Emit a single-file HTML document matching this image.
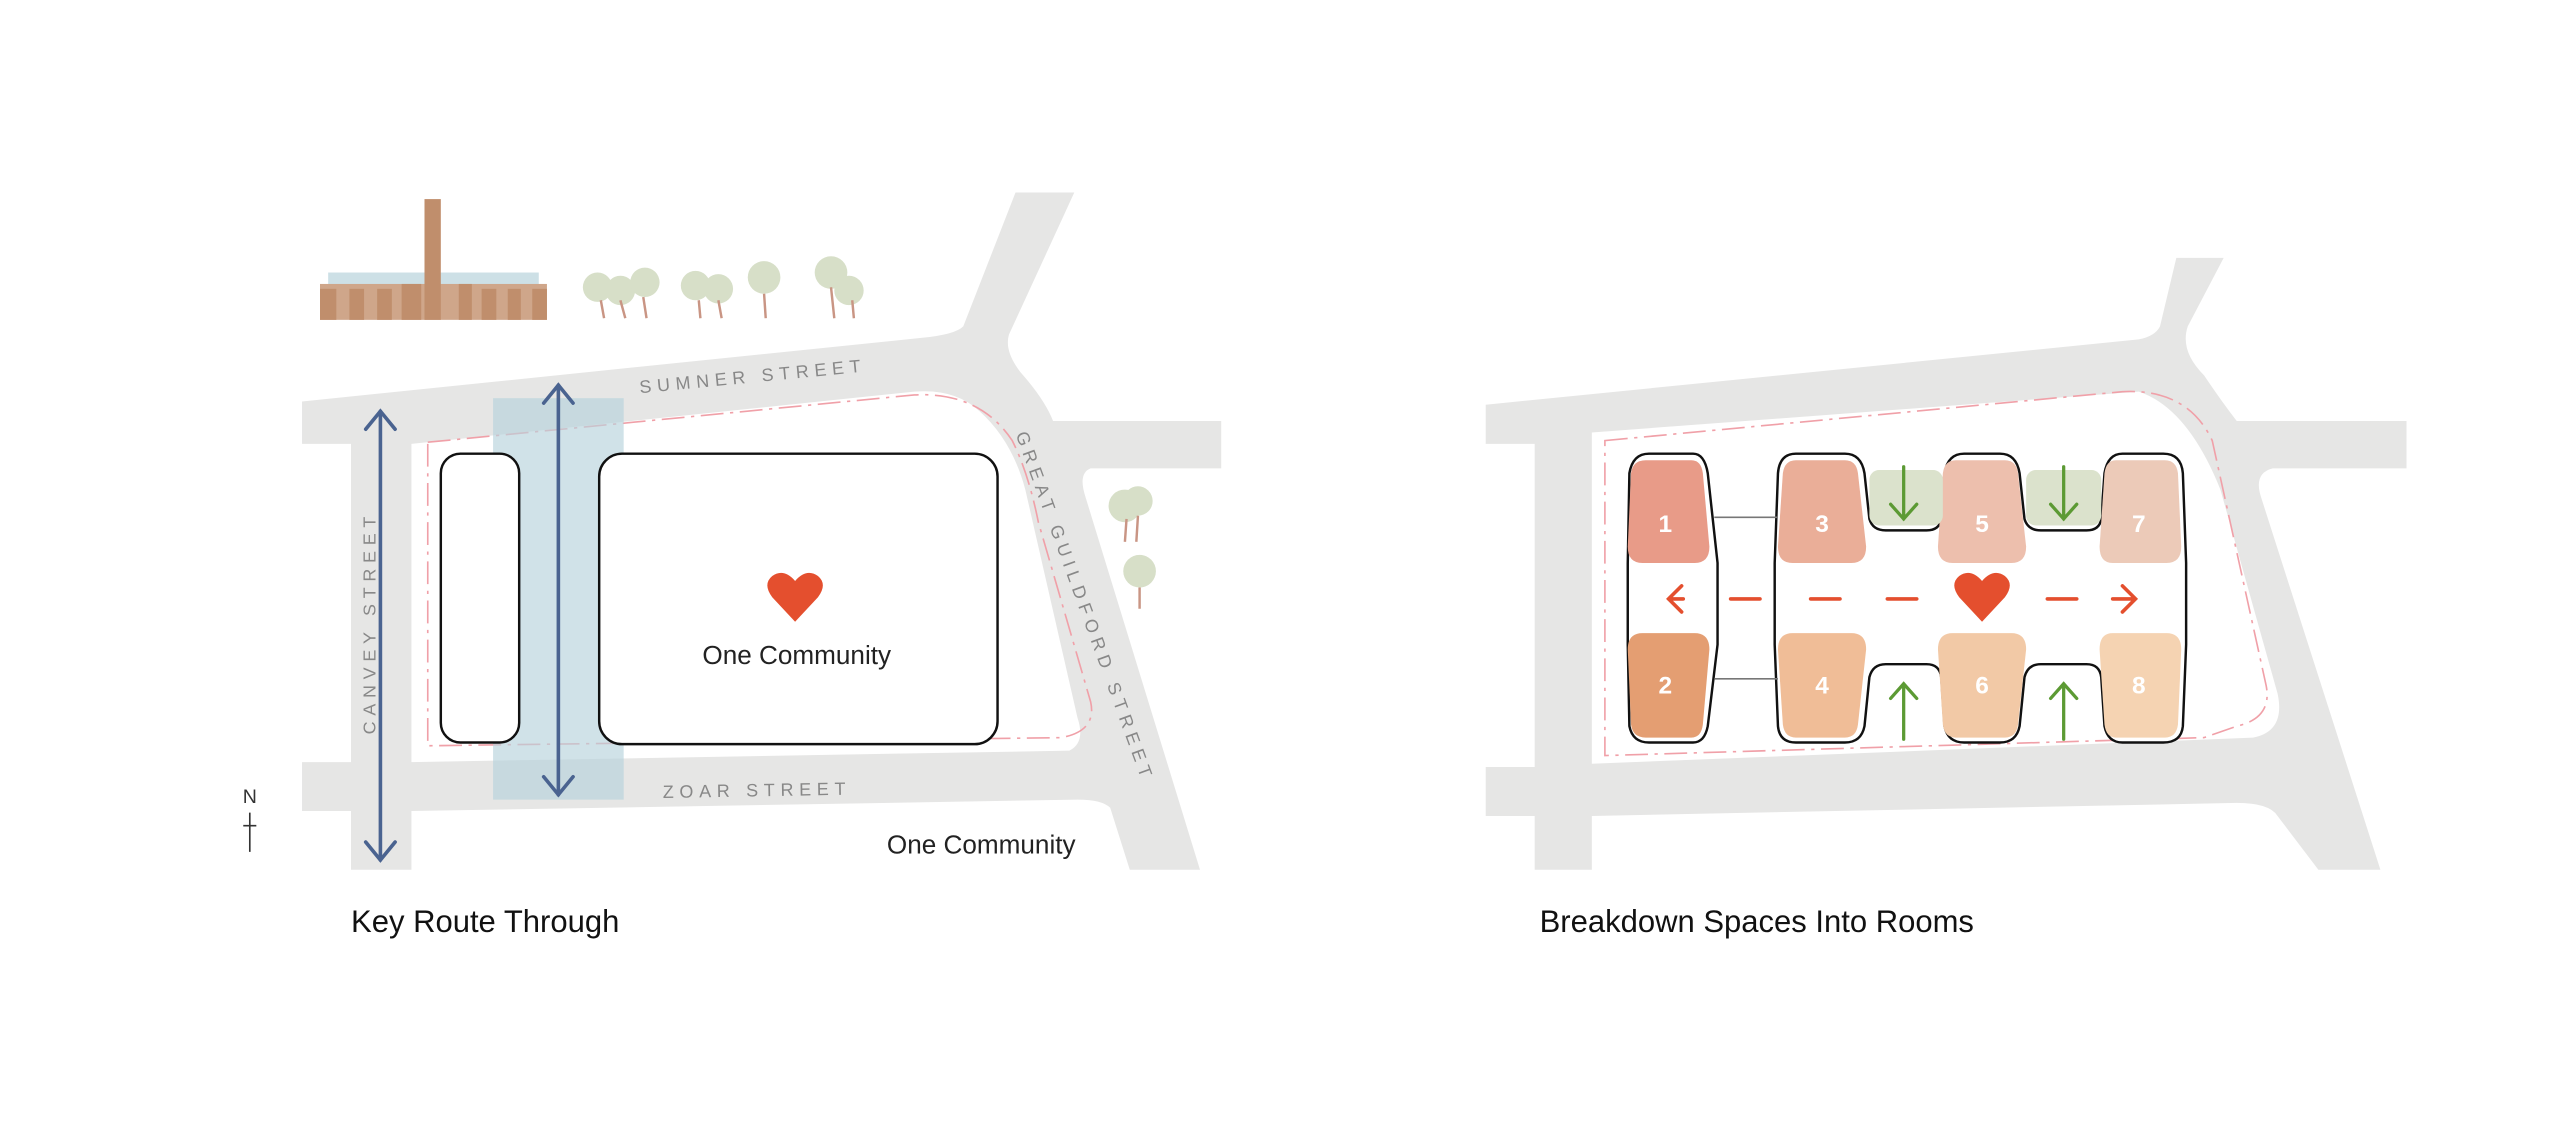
<!DOCTYPE html>
<html><head><meta charset="utf-8"><style>
html,body{margin:0;padding:0;background:#fff;}
svg{display:block;}
text{font-family:"Liberation Sans",sans-serif;}
</style></head><body>
<svg width="2560" height="1126" viewBox="0 0 1568 690" preserveAspectRatio="none" xmlns="http://www.w3.org/2000/svg">
<rect width="1568" height="690" fill="#fff"/>
<!-- LEFT ROADS -->
<path d="M185 246 L565 207 Q585 205 590 200 L622 118 L658 118 L618 205 Q615 215 625 228 Q640 245 645 258 L748 258 L748 287 L668 287 Q660 290 665 305 L735 533 L692 533 L680 495 Q675 490 660 490 L252 497 L252 533 L215 533 L215 497 L185 497 L185 467 L215 467 L215 272 L185 272 Z M252 272 L252 467 L655 460 Q665 455 660 440 L628 300 Q620 270 600 252 Q585 238 560 240 Z" fill="#e6e6e5" fill-rule="evenodd"/>
<path d="M262 271 L560 242 Q600 240 620 270 Q630 290 636 320 L668 430 Q672 448 650 452 L262 457 Z" fill="none" stroke="#f0a0a8" stroke-width="1" stroke-dasharray="14 4 2 4"/>
<rect x="302" y="244" width="80" height="246" fill="#b7d2dc" opacity="0.65"/>
<rect x="270" y="278" width="48" height="177" rx="12" fill="#fff" stroke="#111" stroke-width="1.5"/>
<rect x="367" y="278" width="244" height="178" rx="14" fill="#fff" stroke="#111" stroke-width="1.5"/>
<!-- arrows -->
<g stroke="#4a6390" stroke-width="2.2" fill="none" stroke-linecap="round">
<line x1="233" y1="252" x2="233" y2="527"/><path d="M224 263 L233 252 L242 263 M224 516 L233 527 L242 516"/>
<line x1="342" y1="236" x2="342" y2="487"/><path d="M333 247 L342 236 L351 247 M333 476 L342 487 L351 476"/>
</g>
<path d="M487 381 L473 366 Q467 358 473 353 Q480 348 487 356 Q494 348 501 353 Q507 358 501 366 Z" fill="#e44f2e"/>
<text x="488" y="407" font-size="16" text-anchor="middle" fill="#222">One Community</text>
<text x="601" y="523" font-size="16" text-anchor="middle" fill="#222">One Community</text>
<g fill="#888" font-size="11" letter-spacing="3.5">
<text transform="translate(392 241) rotate(-5.5)">SUMNER STREET</text>
<text transform="translate(406 489) rotate(-1)">ZOAR STREET</text>
<text transform="translate(230 450) rotate(-90)">CANVEY STREET</text>
<text transform="translate(622 266) rotate(70)">GREAT GUILDFORD STREET</text>
</g>
<!-- N -->
<text x="153" y="492" font-size="12" text-anchor="middle" fill="#333">N</text>
<path d="M153 522 L153 498 M149 506 L157 506" stroke="#333" stroke-width="1"/>
<!-- factory -->
<rect x="201" y="167" width="129" height="10" fill="#cde0e6"/>
<rect x="196" y="174" width="139" height="22" fill="#cfa68a"/>
<g fill="#c08e6c"><rect x="196" y="177" width="10" height="19"/><rect x="214" y="177" width="9" height="19"/><rect x="231" y="177" width="9" height="19"/><rect x="246" y="174" width="12" height="22"/><rect x="281" y="174" width="8" height="22"/><rect x="295" y="177" width="9" height="19"/><rect x="311" y="177" width="8" height="19"/><rect x="326" y="177" width="9" height="19"/>
<rect x="260" y="122" width="10" height="74"/></g>
<!-- trees -->
<g fill="#d7dfc8">
<circle cx="366" cy="176" r="9"/><circle cx="380" cy="178" r="9"/><circle cx="395" cy="173" r="9"/>
<circle cx="426" cy="175" r="9"/><circle cx="440" cy="177" r="9"/><circle cx="468" cy="170" r="10"/>
<circle cx="509" cy="167" r="10"/><circle cx="520" cy="178" r="9"/>
<circle cx="689" cy="310" r="10"/><circle cx="697" cy="307" r="9"/><circle cx="698" cy="350" r="10"/>
</g>
<g stroke="#c99584" stroke-width="1.5"><path d="M368 184 L370 195 M380 184 L383 195 M394 182 L396 195 M428 184 L429 195 M440 184 L442 195 M468 180 L469 195 M509 176 L511 195 M522 184 L523 195 M690 318 L689 332 M697 316 L696 332 M698 360 L698 373"/></g>
<text x="215" y="571" font-size="19" fill="#111">Key Route Through</text>

<!-- RIGHT ROADS -->
<path d="M910 248 L1310 208 Q1320 206 1323 200 L1333 158 L1362 158 L1340 200 Q1335 215 1350 230 Q1360 245 1370 258 L1474 258 L1474 287 L1392 287 Q1380 290 1385 305 L1458 533 L1420 533 L1395 500 Q1390 492 1370 492 L975 500 L975 533 L940 533 L940 500 L910 500 L910 470 L940 470 L940 272 L910 272 Z M975 265 L975 468 L1380 452 Q1400 448 1395 425 L1360 300 Q1340 250 1310 240 Z" fill="#e6e6e5" fill-rule="evenodd"/>
<path d="M983 270 L1300 240 Q1340 238 1355 270 L1388 420 Q1392 440 1370 445 L1350 452 L983 463 Z" fill="none" stroke="#f0a0a8" stroke-width="1" stroke-dasharray="14 4 2 4"/>
<!-- blocks -->
<path d="M1010 278 L1037 278 Q1044 278 1046 290 L1052 345 L1052 395 L1046 445 Q1044 455 1037 455 L1010 455 Q1000 455 998 445 L997 395 L997 345 L998 290 Q1000 278 1010 278 Z" fill="#fff" stroke="#111" stroke-width="1.5"/>
<path d="M1100 278 L1130 278 Q1140 278 1142 290 L1145 318 Q1147 325 1155 325 L1180 325 Q1188 325 1189 318 L1191 290 Q1193 278 1203 278 L1225 278 Q1235 278 1237 290 L1240 318 Q1242 325 1250 325 L1278 325 Q1286 325 1287 318 L1289 290 Q1291 278 1300 278 L1325 278 Q1336 278 1337 290 L1339 345 L1339 395 L1337 445 Q1336 455 1325 455 L1300 455 Q1291 455 1289 445 L1287 415 Q1286 407 1278 407 L1250 407 Q1242 407 1240 415 L1237 445 Q1235 455 1225 455 L1203 455 Q1193 455 1191 445 L1189 415 Q1188 407 1180 407 L1155 407 Q1147 407 1145 415 L1142 445 Q1140 455 1130 455 L1100 455 Q1090 455 1089 445 L1087 395 L1087 345 L1089 290 Q1090 278 1100 278 Z" fill="#fff" stroke="#111" stroke-width="1.5"/>
<path d="M1050 317 L1089 317 M1050 416 L1089 416" stroke="#777" stroke-width="1"/>
<!-- rooms -->
<g>
<path d="M1008 282 L1036 282 Q1042 282 1043 290 L1047 335 Q1047 345 1038 345 L1006 345 Q997 345 997 335 L999 290 Q1000 282 1008 282 Z" fill="#e89b88"/>
<path d="M1006 388 L1038 388 Q1047 388 1047 398 L1043 444 Q1042 452 1036 452 L1008 452 Q1000 452 999 444 L997 398 Q997 388 1006 388 Z" fill="#e49e72"/>
<path d="M1100 282 L1130 282 Q1137 282 1138 290 L1143 335 Q1143 345 1134 345 L1098 345 Q1089 345 1089 335 L1092 290 Q1093 282 1100 282 Z" fill="#eaae98"/>
<path d="M1098 388 L1134 388 Q1143 388 1143 398 L1138 444 Q1137 452 1130 452 L1100 452 Q1093 452 1092 444 L1089 398 Q1089 388 1098 388 Z" fill="#f0bd97"/>
<path d="M1198 282 L1228 282 Q1235 282 1236 290 L1241 335 Q1241 345 1232 345 L1196 345 Q1187 345 1187 335 L1190 290 Q1191 282 1198 282 Z" fill="#edbfad"/>
<path d="M1196 388 L1232 388 Q1241 388 1241 398 L1236 444 Q1235 452 1228 452 L1198 452 Q1191 452 1190 444 L1187 398 Q1187 388 1196 388 Z" fill="#f2c9a6"/>
<path d="M1296 282 L1326 282 Q1333 282 1334 290 L1336 335 Q1336 345 1327 345 L1294 345 Q1286 345 1286 335 L1289 290 Q1290 282 1296 282 Z" fill="#eccab8"/>
<path d="M1294 388 L1327 388 Q1336 388 1336 398 L1334 444 Q1333 452 1326 452 L1296 452 Q1290 452 1289 444 L1286 398 Q1286 388 1294 388 Z" fill="#f5d3b2"/>
<rect x="1145" y="288" width="45" height="34" rx="6" fill="#dbe2cc"/>
<rect x="1241" y="288" width="46" height="34" rx="6" fill="#dbe2cc"/>
</g>
<g fill="#fff" font-size="15" font-weight="bold" text-anchor="middle">
<text x="1020" y="326">1</text><text x="1020" y="425">2</text><text x="1116" y="326">3</text><text x="1116" y="425">4</text>
<text x="1214" y="326">5</text><text x="1214" y="425">6</text><text x="1310" y="326">7</text><text x="1310" y="425">8</text>
</g>
<g stroke="#5c9a34" stroke-width="2" fill="none" stroke-linecap="round">
<path d="M1166 286 L1166 318 M1158 309 L1166 318 L1174 309"/>
<path d="M1264 286 L1264 318 M1256 309 L1264 318 L1272 309"/>
<path d="M1166 453 L1166 419 M1158 428 L1166 419 L1174 428"/>
<path d="M1264 453 L1264 419 M1256 428 L1264 419 L1272 428"/>
</g>
<g stroke="#e44f2e" stroke-width="2.2" fill="none" stroke-linecap="round">
<path d="M1030 359 L1022 367 L1030 375 M1022 367 L1031 367"/>
<path d="M1060 367 L1078 367 M1109 367 L1127 367 M1156 367 L1174 367 M1254 367 L1272 367 M1294 367 L1307 367 M1300 359 L1308 367 L1300 375"/>
</g>
<path d="M1214 381 L1200 366 Q1194 358 1200 353 Q1207 348 1214 356 Q1221 348 1228 353 Q1234 358 1228 366 Z" fill="#e44f2e"/>
<text x="943" y="571" font-size="19" fill="#111">Breakdown Spaces Into Rooms</text>
</svg>
</body></html>
